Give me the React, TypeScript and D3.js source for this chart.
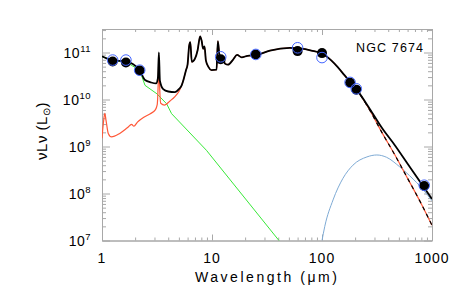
import React, { useEffect, useRef } from "react";
import * as d3 from "d3";

// wavelength in micron, luminosity (nu L_nu) in L_sun
const totalWave = [1.0, 1.25, 1.65, 2.2, 2.46, 2.8, 3.1, 3.22, 3.29, 3.36, 3.6, 4.0, 4.6, 5.0];
const totalLum = [8.3e10, 6.8e10, 6.5e10, 4.2e10, 2.6e10, 2.3e10, 2.2e10, 2.8e10, 1.0e11, 2.5e10, 1.66e10, 1.48e10, 1.44e10, 1.66e10];

// mid / far IR part shared by the total and the dust component
const midWave = [5.3, 5.5, 5.8, 6.0, 6.2, 6.35, 6.55, 7.0, 7.4, 7.8, 8.05, 8.3, 8.55, 8.8, 9.3, 9.9, 11.0, 11.3, 11.7, 12.3, 12.7, 13.1, 14.0, 15.5, 16.9, 18.6, 21, 25.6, 33.6, 51, 63, 80, 100, 130, 160, 182, 205];
const midLum = [2.0e10, 2.6e10, 4.2e10, 5.6e10, 1.4e11, 1.66e11, 6.3e10, 7.4e10, 1.12e11, 2.2e11, 1.78e11, 1.2e11, 1.35e11, 6.8e10, 4.9e10, 4.2e10, 4.3e10, 1.74e11, 8.7e10, 6.6e10, 7.1e10, 5.8e10, 5.5e10, 7.0e10, 8.9e10, 7.9e10, 8.5e10, 8.9e10, 1.1e11, 1.26e11, 1.22e11, 1.1e11, 9.5e10, 5.8e10, 3.3e10, 2.3e10, 1.66e10];

const totalLongWave = [272, 350, 461, 600, 845, 1000];
const totalLongLum = [6.3e9, 2.5e9, 1.05e9, 4.3e8, 1.35e8, 7.6e7];

const dustShortWave = [1.0, 1.03, 1.06, 1.09, 1.14, 1.22, 1.45, 1.7, 1.86, 1.95, 2.1, 2.4, 2.75, 3.05, 3.18, 3.24, 3.29, 3.34, 3.42, 3.7, 4.15, 4.6, 5.0];
const dustShortLum = [1.5e9, 3.2e9, 5.1e9, 3.5e9, 1.9e9, 1.6e9, 1.9e9, 2.5e9, 2.95e9, 2.7e9, 3.3e9, 4.2e9, 5.0e9, 6.0e9, 7.9e9, 2.0e10, 7.9e10, 2.0e10, 8.3e9, 7.6e9, 9.3e9, 1.15e10, 1.48e10];

const dustLongWave = [272, 350, 455, 600, 800, 1000];
const dustLongLum = [5.9e9, 2.0e9, 6.9e8, 2.1e8, 6.0e7, 2.1e7];

const starWave = [1.0, 1.25, 1.65, 2.2, 2.46, 3.16, 3.87, 4.29, 8.9, 40.6, 50];
const starLum = [8.2e10, 6.8e10, 6.3e10, 4.2e10, 2.0e10, 1.32e10, 8.1e9, 5.0e9, 8.3e8, 1.0e7, 5.5e6];

const coldWave = [100, 106, 126, 155, 191, 256, 315, 386, 508, 625, 845, 1000];
const coldLum = [1.0e7, 2.0e7, 7.3e7, 2.1e8, 4.0e8, 6.0e8, 6.6e8, 5.9e8, 3.7e8, 2.4e8, 1.15e8, 7.0e7];

const obsWave = [1.25, 1.65, 2.2, 12, 25, 60, 100, 180, 205, 850];
const obsLum = [6.45e10, 6.15e10, 4.16e10, 7.2e10, 9.1e10, 1.07e11, 9.7e10, 2.28e10, 1.62e10, 1.45e8];
const modelLum = [6.9e10, 6.9e10, 4.2e10, 8.1e10, 9.1e10, 1.26e11, 7.8e10, 2.31e10, 1.69e10, 1.5e8];

const xLabels = [1, 10, 100, 1000];
const yExponents = [7, 8, 9, 10, 11];

const font = "'Liberation Sans', Arial, sans-serif";

function pairs(w: number[], l: number[]): [number, number][] {
  return w.map((v, i) => [v, l[i]]);
}

export default function App() {
  const svgRef = useRef<SVGSVGElement>(null);

  useEffect(() => {
    const width = 463;
    const height = 300;
    const left = 102, right = 432, top = 29, bottom = 240.5;

    const svg = d3.select(svgRef.current).attr("width", width).attr("height", height);
    svg.selectAll("*").remove();

    const x = d3.scaleLog().domain([1, 1000]).range([left, right]);
    const y = d3.scaleLog().domain([1e7, Math.pow(10, 11.5)]).range([bottom, top]);

    svg.append("defs").append("clipPath").attr("id", "plotclip")
      .append("rect").attr("x", left).attr("y", top)
      .attr("width", right - left).attr("height", bottom - top);

    const axisColor = "#a8a8a8";
    const isMajor = (v: number) => Math.abs(Math.log10(v) - Math.round(Math.log10(v))) < 1e-6;
    const xMinor = x.ticks().filter((v) => !isMajor(v));
    const yMinor = y.ticks().filter((v) => !isMajor(v));
    const yMajor = yExponents.map((e) => Math.pow(10, e));

    const axes = svg.append("g");
    const addAxis = (axis: any, tx: number, ty: number) => {
      const a = axes.append("g").attr("transform", `translate(${tx},${ty})`).call(axis);
      a.selectAll("text").remove();
      a.selectAll("line").attr("stroke", axisColor);
      a.select(".domain").attr("stroke", axisColor);
    };
    const none = () => "";
    addAxis(d3.axisBottom(x).tickValues(xLabels).tickSize(-6).tickSizeOuter(0).tickFormat(none), 0, bottom);
    addAxis(d3.axisBottom(x).tickValues(xMinor).tickSize(-3).tickSizeOuter(0).tickFormat(none), 0, bottom);
    addAxis(d3.axisTop(x).tickValues(xLabels).tickSize(-6).tickSizeOuter(0).tickFormat(none), 0, top);
    addAxis(d3.axisTop(x).tickValues(xMinor).tickSize(-3).tickSizeOuter(0).tickFormat(none), 0, top);
    addAxis(d3.axisLeft(y).tickValues(yMajor).tickSize(-8).tickSizeOuter(0).tickFormat(none), left, 0);
    addAxis(d3.axisLeft(y).tickValues(yMinor).tickSize(-4).tickSizeOuter(0).tickFormat(none), left, 0);
    addAxis(d3.axisRight(y).tickValues(yMajor).tickSize(-8).tickSizeOuter(0).tickFormat(none), right, 0);
    addAxis(d3.axisRight(y).tickValues(yMinor).tickSize(-4).tickSizeOuter(0).tickFormat(none), right, 0);

    // tick labels
    svg.append("g").selectAll("text").data(xLabels).enter().append("text")
      .attr("x", (d) => x(d))
      .attr("y", bottom + 22.5)
      .attr("text-anchor", "middle")
      .style("font-family", font).style("font-size", "14px").style("letter-spacing", "1px")
      .text((d) => String(d));

    const yl = svg.append("g").selectAll("text").data(yExponents).enter().append("text")
      .attr("x", 91)
      .attr("y", (d) => y(Math.pow(10, d)) + 5)
      .attr("text-anchor", "end")
      .style("font-family", font).style("font-size", "14px").style("letter-spacing", "0.5px");
    yl.append("tspan").text("10");
    yl.append("tspan").attr("dy", -6).style("font-size", "9.5px").text((d) => String(d));

    // axis titles
    svg.append("text")
      .attr("x", 266).attr("y", 281.5)
      .attr("text-anchor", "middle")
      .attr("textLength", 142).attr("lengthAdjust", "spacing")
      .style("font-family", font).style("font-size", "14px")
      .text("Wavelength (\u03bcm)");

    const yt = svg.append("text")
      .attr("transform", "translate(47,131) rotate(-90)")
      .attr("text-anchor", "middle")
      .style("font-family", font).style("font-size", "15px").style("letter-spacing", "0.5px");
    yt.append("tspan").text("\u03bdL\u03bd (L");
    yt.append("tspan").attr("dy", 3).style("font-size", "10px").text("\u2299");
    yt.append("tspan").attr("dy", -3).text(")");

    svg.append("text")
      .attr("x", 423).attr("y", 52)
      .attr("text-anchor", "end")
      .attr("textLength", 67).attr("lengthAdjust", "spacing")
      .style("font-family", font).style("font-size", "12.5px")
      .text("NGC 7674");

    const line = d3.line<[number, number]>()
      .x((d) => x(d[0]))
      .y((d) => y(d[1]))
      .curve(d3.curveMonotoneX);
    const straight = d3.line<[number, number]>()
      .x((d) => x(d[0]))
      .y((d) => y(d[1]));

    const plot = svg.append("g").attr("clip-path", "url(#plotclip)");

    const dust = [...pairs(dustShortWave, dustShortLum), ...pairs(midWave, midLum), ...pairs(dustLongWave, dustLongLum)];
    const total = [...pairs(totalWave, totalLum), ...pairs(midWave, midLum), ...pairs(totalLongWave, totalLongLum)];
    const dustTail = [...pairs(midWave, midLum).slice(-2), ...pairs(dustLongWave, dustLongLum)];

    plot.append("path").attr("d", straight(pairs(starWave, starLum)))
      .attr("fill", "none").attr("stroke", "#38e838").attr("stroke-width", 1);
    plot.append("path").attr("d", line(pairs(coldWave, coldLum)))
      .attr("fill", "none").attr("stroke", "#7eaad4").attr("stroke-width", 1);
    plot.append("path").attr("d", line(dust))
      .attr("fill", "none").attr("stroke", "#ff5838").attr("stroke-width", 1.2);
    plot.append("path").attr("d", line(dustTail))
      .attr("fill", "none").attr("stroke", "#000").attr("stroke-width", 1.2)
      .attr("stroke-dasharray", "4,4");
    plot.append("path").attr("d", line(total))
      .attr("fill", "none").attr("stroke", "#000").attr("stroke-width", 1.8);

    svg.append("g").selectAll("circle").data(obsWave).enter().append("circle")
      .attr("cx", (d) => x(d))
      .attr("cy", (d, i) => y(obsLum[i]))
      .attr("r", 5)
      .attr("fill", "#000");

    svg.append("g").selectAll("circle").data(obsWave).enter().append("circle")
      .attr("cx", (d) => x(d))
      .attr("cy", (d, i) => y(modelLum[i]))
      .attr("r", 5.3)
      .attr("fill", "none")
      .attr("stroke", "#4466ff")
      .attr("stroke-width", 1);
  }, []);

  return (
    <div style={{ position: "absolute", left: 0, top: 0 }}>
      <svg ref={svgRef} style={{ display: "block" }} />
    </div>
  );
}
